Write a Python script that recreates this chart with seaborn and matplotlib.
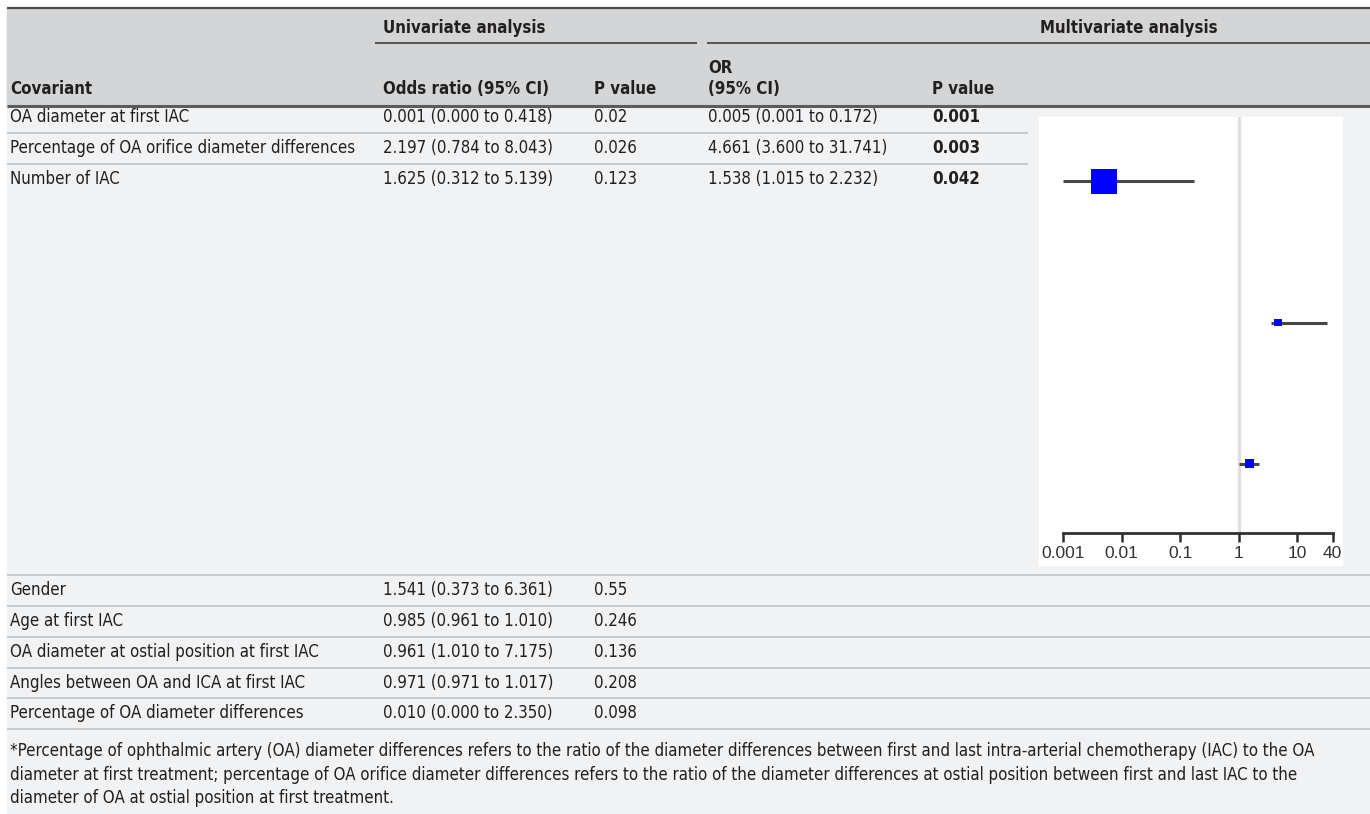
import matplotlib
matplotlib.use("Agg")
import matplotlib.pyplot as plt
from matplotlib import font_manager as fm
from matplotlib.patches import Rectangle
from matplotlib.ticker import NullLocator
import pandas as pd
import seaborn as sns

# ---------------- data ----------------
top_covariates = [
    "OA diameter at first IAC",
    "Percentage of OA orifice diameter differences",
    "Number of IAC",
]
uni_or_top = [0.001, 2.197, 1.625]
uni_lo_top = [0.000, 0.784, 0.312]
uni_hi_top = [0.418, 8.043, 5.139]
uni_p_top = ["0.02", "0.026", "0.123"]

multi_or = [0.005, 4.661, 1.538]
multi_lo = [0.001, 3.600, 1.015]
multi_hi = [0.172, 31.741, 2.232]
multi_p = ["0.001", "0.003", "0.042"]

bottom_covariates = [
    "Gender",
    "Age at first IAC",
    "OA diameter at ostial position at first IAC",
    "Angles between OA and ICA at first IAC",
    "Percentage of OA diameter differences",
]
uni_or_bottom = [1.541, 0.985, 0.961, 0.971, 0.010]
uni_lo_bottom = [0.373, 0.961, 1.010, 0.971, 0.000]
uni_hi_bottom = [6.361, 1.010, 7.175, 1.017, 2.350]
uni_p_bottom = ["0.55", "0.246", "0.136", "0.208", "0.098"]

axis_ticks = [0.001, 0.01, 0.1, 1, 10, 40]
axis_tick_labels = ["0.001", "0.01", "0.1", "1", "10", "40"]

footnote = [
    "*Percentage of ophthalmic artery (OA) diameter differences refers to the ratio of the diameter "
    "differences between first and last intra-arterial chemotherapy (IAC) to the OA",
    "diameter at first treatment; percentage of OA orifice diameter differences refers to the ratio "
    "of the diameter differences at ostial position between first and last IAC to the",
    "diameter of OA at ostial position at first treatment.",
]

# ---------------- fonts & theme ----------------
sns.set_theme(style="white")
fonts = fm.fontManager.ttflist
installed = {f.name for f in fonts}
has_condensed = any(f.name == "DejaVu Sans" and f.stretch == "condensed" for f in fonts)
has_narrow = "Liberation Sans Narrow" in installed

if has_condensed:
    table_font, table_stretch, FS = "DejaVu Sans", "condensed", 12.1
elif has_narrow:
    table_font, table_stretch, FS = "Liberation Sans Narrow", "normal", 14.3
else:
    table_font, table_stretch, FS = "DejaVu Sans", "normal", 10.9
axis_font = "Liberation Sans" if "Liberation Sans" in installed else "DejaVu Sans"
plt.rcParams["font.family"] = [table_font, "DejaVu Sans"]

W, H = 1370, 814
HEAD_BG = "#d4d5d7"
BODY_BG = "#f1f2f4"
TXT = "#231f20"
SEP = "#c6c7c9"

fig = plt.figure(figsize=(W / 100, H / 100), dpi=100)
fig.patch.set_facecolor("white")

# full-figure canvas in pixel units for the table
cv = fig.add_axes([0, 0, 1, 1])
cv.set_xlim(0, W)
cv.set_ylim(H, 0)
cv.axis("off")

cv.add_patch(Rectangle((7, 8), W - 7, H - 8, color=BODY_BG, zorder=0))
cv.add_patch(Rectangle((7, 8), W - 7, 98, color=HEAD_BG, zorder=0))
cv.add_patch(Rectangle((1039, 117), 303, 448, color="white", zorder=1))

cv.hlines(8, 7, W, color="#4a4a4a", lw=1.6, zorder=2)
cv.hlines(106, 7, W, color="#5c5c5c", lw=2.2, zorder=2)
cv.hlines(43, 375, 697, color="#3c3c3c", lw=1.2, zorder=2)
cv.hlines(43, 707, W, color="#3c3c3c", lw=1.2, zorder=2)

for y in [133, 164]:
    cv.hlines(y, 7, 1028, color=SEP, lw=1.3, zorder=2)
for y in [575, 606, 637, 668, 698, 729]:
    cv.hlines(y, 7, W, color=SEP, lw=1.3, zorder=2)

col_x = [10, 383, 594, 708, 932]


def put(x, y, s, bold=False):
    cv.text(x, y, s, fontsize=FS, color=TXT, va="center", ha="left",
            fontstretch=table_stretch,
            fontweight="bold" if bold else "normal", zorder=3)


# header
put(383, 28, "Univariate analysis", bold=True)
put(1040, 28, "Multivariate analysis", bold=True)
put(col_x[0], 89, "Covariant", bold=True)
put(col_x[1], 89, "Odds ratio (95% CI)", bold=True)
put(col_x[2], 89, "P value", bold=True)
put(col_x[3], 68, "OR", bold=True)
put(col_x[3], 89, "(95% CI)", bold=True)
put(col_x[4], 89, "P value", bold=True)


def ci_text(v, lo, hi):
    return f"{v:.3f} ({lo:.3f} to {hi:.3f})"


top_y = [117, 148, 179]
for i, y in enumerate(top_y):
    put(col_x[0], y, top_covariates[i])
    put(col_x[1], y, ci_text(uni_or_top[i], uni_lo_top[i], uni_hi_top[i]))
    put(col_x[2], y, uni_p_top[i])
    put(col_x[3], y, ci_text(multi_or[i], multi_lo[i], multi_hi[i]))
    put(col_x[4], y, multi_p[i], bold=True)

bottom_y = [590, 621, 652, 683, 713]
for i, y in enumerate(bottom_y):
    put(col_x[0], y, bottom_covariates[i])
    put(col_x[1], y, ci_text(uni_or_bottom[i], uni_lo_bottom[i], uni_hi_bottom[i]))
    put(col_x[2], y, uni_p_bottom[i])

for y, line in zip([751, 775, 798], footnote):
    put(col_x[0], y, line)

# ---------------- forest plot of the multivariate odds ratios ----------------
fx = fig.add_axes([1039 / W, 1 - 533 / H, 303 / W, (533 - 117) / H])
fx.patch.set_alpha(0)
fx.set_xscale("log")

forest = pd.DataFrame({
    "covariate": top_covariates,
    "row": range(len(top_covariates)),
    "or": multi_or,
    "lo": multi_lo,
    "hi": multi_hi,
})

fx.axvline(1, color="#dfdfdf", lw=2.4, zorder=0)
fx.hlines(forest["row"], forest["lo"], forest["hi"], color="#474747", lw=2.2, zorder=2)
box_area = dict(zip(top_covariates, [330, 26, 44]))
sns.scatterplot(data=forest, x="or", y="row", size="covariate", sizes=box_area,
                marker="s", color="#0000ff", linewidth=0, legend=False, ax=fx, zorder=3)

fx.set_xlim(10 ** -3.41, 10 ** 1.761)
fx.set_ylim(2.489, -0.454)
fx.set_xlabel("")
fx.set_ylabel("")
for side in ["left", "top", "right"]:
    fx.spines[side].set_visible(False)
fx.spines["bottom"].set_bounds(0.001, 40)
fx.spines["bottom"].set_color("#303030")
fx.spines["bottom"].set_linewidth(2.0)
fx.set_xticks(axis_ticks)
fx.set_xticklabels(axis_tick_labels, family=[axis_font, "DejaVu Sans"])
fx.xaxis.set_minor_locator(NullLocator())
fx.set_yticks([])
fx.tick_params(axis="x", bottom=True, direction="out", length=6.5, width=1.8, color="#303030",
               labelsize=12.5, labelcolor="#333333", pad=3)
fx.grid(False)

fig.savefig("out.png", dpi=100)
